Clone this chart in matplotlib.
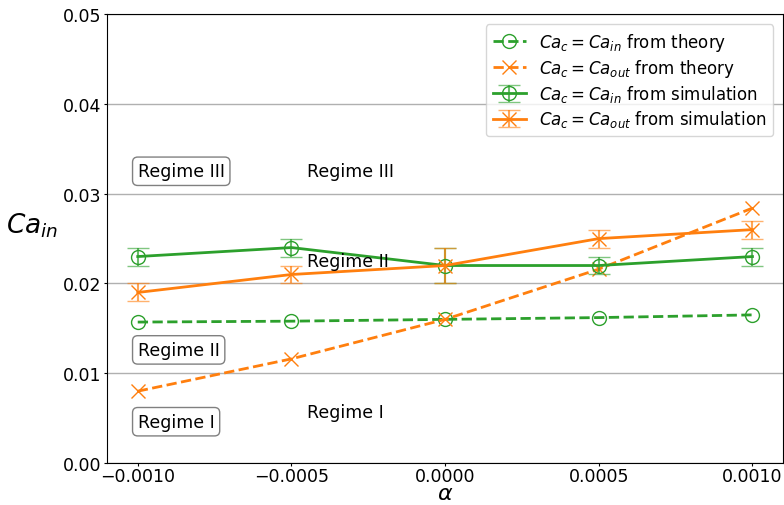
import matplotlib
matplotlib.use("Agg")
import matplotlib.pyplot as plt

# ── Données ──
alpha = [-0.001, -0.0005, 0.0, 0.0005, 0.001]

theory_in = [0.0157, 0.0158, 0.0160, 0.0162, 0.0165]
theory_out = [0.0080, 0.0116, 0.0160, 0.0216, 0.0284]

sim_in = [0.023, 0.024, 0.022, 0.022, 0.023]
sim_in_err = [0.001, 0.001, 0.002, 0.0009, 0.001]
sim_out = [0.019, 0.021, 0.022, 0.025, 0.026]
sim_out_err = [0.001, 0.001, 0.002, 0.001, 0.001]

green = "#2ca02c"
orange = "#ff7f0e"

fig, ax = plt.subplots(figsize=(7.84, 5.06), dpi=100)
fig.subplots_adjust(left=0.1365, right=0.999, top=0.970, bottom=0.083)

ax.plot(alpha, theory_in, "--o", color=green, lw=2, ms=10, mfc="none", mew=1,
        label=r"$Ca_c = Ca_{in}$ from theory")
ax.plot(alpha, theory_out, "--x", color=orange, lw=2, ms=10, mew=1,
        label=r"$Ca_c = Ca_{out}$ from theory")

for y, err, mk, col, lab in [
    (sim_in, sim_in_err, "o", green, r"$Ca_c = Ca_{in}$ from simulation"),
    (sim_out, sim_out_err, "x", orange, r"$Ca_c = Ca_{out}$ from simulation"),
]:
    eb = ax.errorbar(alpha, y, yerr=err, fmt="-" + mk, color=col, lw=2, ms=10,
                     mfc="none", mew=1, capsize=8, elinewidth=1.5, label=lab)
    for cap in eb[1]:
        cap.set_alpha(0.6)
    for bar in eb[2]:
        bar.set_alpha(0.7)

# ── Annotations des régimes ──
box = dict(boxstyle="round", fc="white", ec="gray")
fs = 12.5
ax.text(-0.001, 0.0325, "Regime III", fontsize=fs, va="center", bbox=box)
ax.text(-0.001, 0.0126, "Regime II", fontsize=fs, va="center", bbox=box)
ax.text(-0.001, 0.0046, "Regime I", fontsize=fs, va="center", bbox=box)
ax.text(-0.00045, 0.0325, "Regime III", fontsize=fs, va="center")
ax.text(-0.00045, 0.0225, "Regime II", fontsize=fs, va="center")
ax.text(-0.00045, 0.0057, "Regime I", fontsize=fs, va="center")

ax.set_xlim(-0.0011, 0.0011)
ax.set_ylim(0, 0.05)
ax.set_xticks([-0.001, -0.0005, 0.0, 0.0005, 0.001])
ax.set_xticklabels(["−0.0010", "−0.0005", "0.0000", "0.0005", "0.0010"])
ax.yaxis.grid(True, color="#b0b0b0", lw=1)
ax.set_axisbelow(True)
ax.tick_params(labelsize=12.5, length=2, pad=2)
ax.tick_params(axis="x", pad=1)
ax.set_xlabel(r"$\alpha$", fontsize=16, labelpad=-1.5)
ax.set_ylabel(r"$Ca_{in}$", fontsize=19, rotation=0, labelpad=22)
ax.legend(loc="upper right", fontsize=12, labelspacing=0.25, borderaxespad=0.6)

plt.savefig("out.png")
